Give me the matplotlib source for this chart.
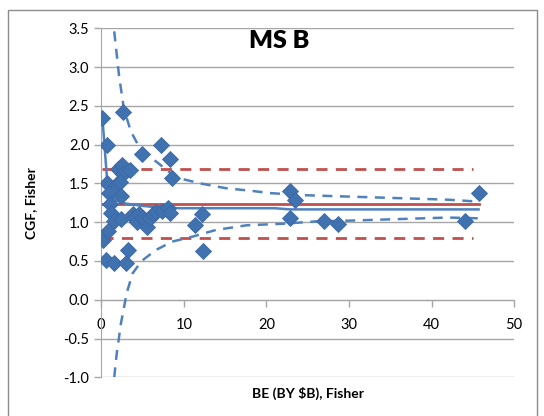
import matplotlib
matplotlib.use("Agg")
import matplotlib.pyplot as plt
from matplotlib.patches import Rectangle

# Scatter data: BE (BY $B) vs CGF
be = [0.15, 0.7, 0.75, 0.97, 1.1, 1.2, 1.55, 0.2, 0.8, 0.55, 1.55, 2.95, 3.2,
      2.7, 2.05, 2.55, 2.6, 3.45, 1.95, 2.3, 2.45, 2.35,
      3.8, 4.0, 4.3, 4.6, 5.0, 5.3, 5.6, 5.9, 6.3, 6.6, 4.9,
      7.2, 8.3, 8.55, 7.4, 8.05, 8.3,
      11.4, 12.2, 12.3,
      22.85, 23.5, 22.9, 27.0, 28.7, 44.0, 45.7]
cgf = [2.34, 2.00, 1.50, 1.37, 1.24, 1.12, 1.01, 0.77, 0.89, 0.51, 0.48, 0.48, 0.64,
       2.42, 1.68, 1.74, 1.62, 1.67, 1.49, 1.52, 1.34, 1.04,
       1.11, 1.05, 1.00, 1.10, 1.06, 1.03, 0.94, 1.05, 1.10, 1.13, 1.88,
       2.00, 1.81, 1.57, 1.14, 1.18, 1.12,
       0.97, 1.10, 0.63,
       1.40, 1.29, 1.05, 1.02, 0.98, 1.01, 1.38]

# Overall mean and control limits
mean_x = [0.15, 45.7]
mean_y = [1.24, 1.24]
limit_x = [0.15, 45.0]
upper_limit = [1.69, 1.69]
lower_limit = [0.80, 0.80]

# Cumulative mean
cum_x = [0.15, 0.75, 1.0, 1.3, 2.0, 3.0, 5.0, 7.0, 9.5, 21.0, 22.9, 45.7]
cum_y = [2.34, 1.50, 1.37, 1.31, 1.27, 1.24, 1.21, 1.19, 1.18, 1.18, 1.165, 1.165]

# Funnel bounds around the cumulative mean
up_x = [1.58, 2.15, 2.75, 3.6, 4.8, 6.8, 8.2, 9.7, 12.0, 15.0, 18.5, 20.5, 24.0, 30.0, 36.0, 42.0, 45.7]
up_y = [3.46, 2.90, 2.46, 2.17, 1.93, 1.77, 1.65, 1.56, 1.50, 1.44, 1.40, 1.375, 1.35, 1.33, 1.31, 1.29, 1.265]
lo_x = [1.58, 1.85, 2.4, 3.1, 3.8, 4.9, 6.6, 8.6, 11.1, 13.9, 17.6, 22.0, 26.0, 30.0, 36.0, 42.0, 45.7]
lo_y = [-1.0, -0.72, -0.30, 0.09, 0.34, 0.50, 0.64, 0.75, 0.815, 0.90, 0.96, 0.98, 1.01, 1.02, 1.04, 1.06, 1.05]

x_ticks = [0, 10, 20, 30, 40, 50]
y_ticks = [-1.0, -0.5, 0.0, 0.5, 1.0, 1.5, 2.0, 2.5, 3.0, 3.5]

plt.rcParams['font.family'] = ['Lato', 'DejaVu Sans']

fig = plt.figure(figsize=(5.44, 4.16), dpi=100)
ax = fig.add_axes([0.186, 0.093, 0.759, 0.839])

blue = '#4F81BD'
marker_blue = '#4172B0'
red = '#C0504D'
grid_c = '#A6A6A6'

ax.set_xlim(0, 50)
ax.set_ylim(-1.0, 3.5)
ax.set_yticks(y_ticks)
ax.set_yticklabels([f"{v:.1f}" for v in y_ticks])
ax.set_xticks(x_ticks)
ax.set_xticklabels([str(v) for v in x_ticks])

for v in y_ticks:
    ax.axhline(v, color=grid_c, lw=1.0, zorder=0)

for s in ['top', 'right']:
    ax.spines[s].set_visible(False)
ax.spines['left'].set_color(grid_c)
ax.spines['bottom'].set_color(grid_c)
ax.spines['bottom'].set_position(('data', 0))
ax.tick_params(axis='both', colors=grid_c, labelcolor='black', labelsize=10.5,
               length=5, width=1, direction='out')
ax.tick_params(axis='x', pad=8)

ax.plot(limit_x, upper_limit, color=red, lw=2.0, dashes=(4, 3), zorder=2)
ax.plot(limit_x, lower_limit, color=red, lw=2.0, dashes=(4, 3), zorder=2)
ax.plot(mean_x, mean_y, color=red, lw=2.0, zorder=2)
ax.plot(cum_x, cum_y, color=blue, lw=1.8, zorder=3)
ax.plot(up_x, up_y, color=blue, lw=1.8, dashes=(4, 3), zorder=3)
ax.plot(lo_x, lo_y, color=blue, lw=1.8, dashes=(4, 3), zorder=3)
ax.plot(be, cgf, linestyle='none', marker='D', markersize=8,
        color=marker_blue, markeredgecolor='#3B68A3', markeredgewidth=0.6, zorder=4)

ax.text(0.43, 0.963, 'MS B', transform=ax.transAxes, ha='center', va='center',
        fontsize=18, fontweight='heavy')
ax.set_xlabel('BE (BY $B), Fisher', fontsize=10, fontweight='bold')
ax.xaxis.set_label_coords(0.5, -0.028)
ax.set_ylabel('CGF, Fisher', fontsize=10, fontweight='bold')
ax.yaxis.set_label_coords(-0.155, 0.5)

fig.patches.append(Rectangle((8 / 544, -0.05), 529 / 544, 1 - 10 / 416 + 0.05,
                             transform=fig.transFigure, fill=False,
                             edgecolor='#8C8C8C', lw=1.0))

fig.savefig('out.png', dpi=100)
